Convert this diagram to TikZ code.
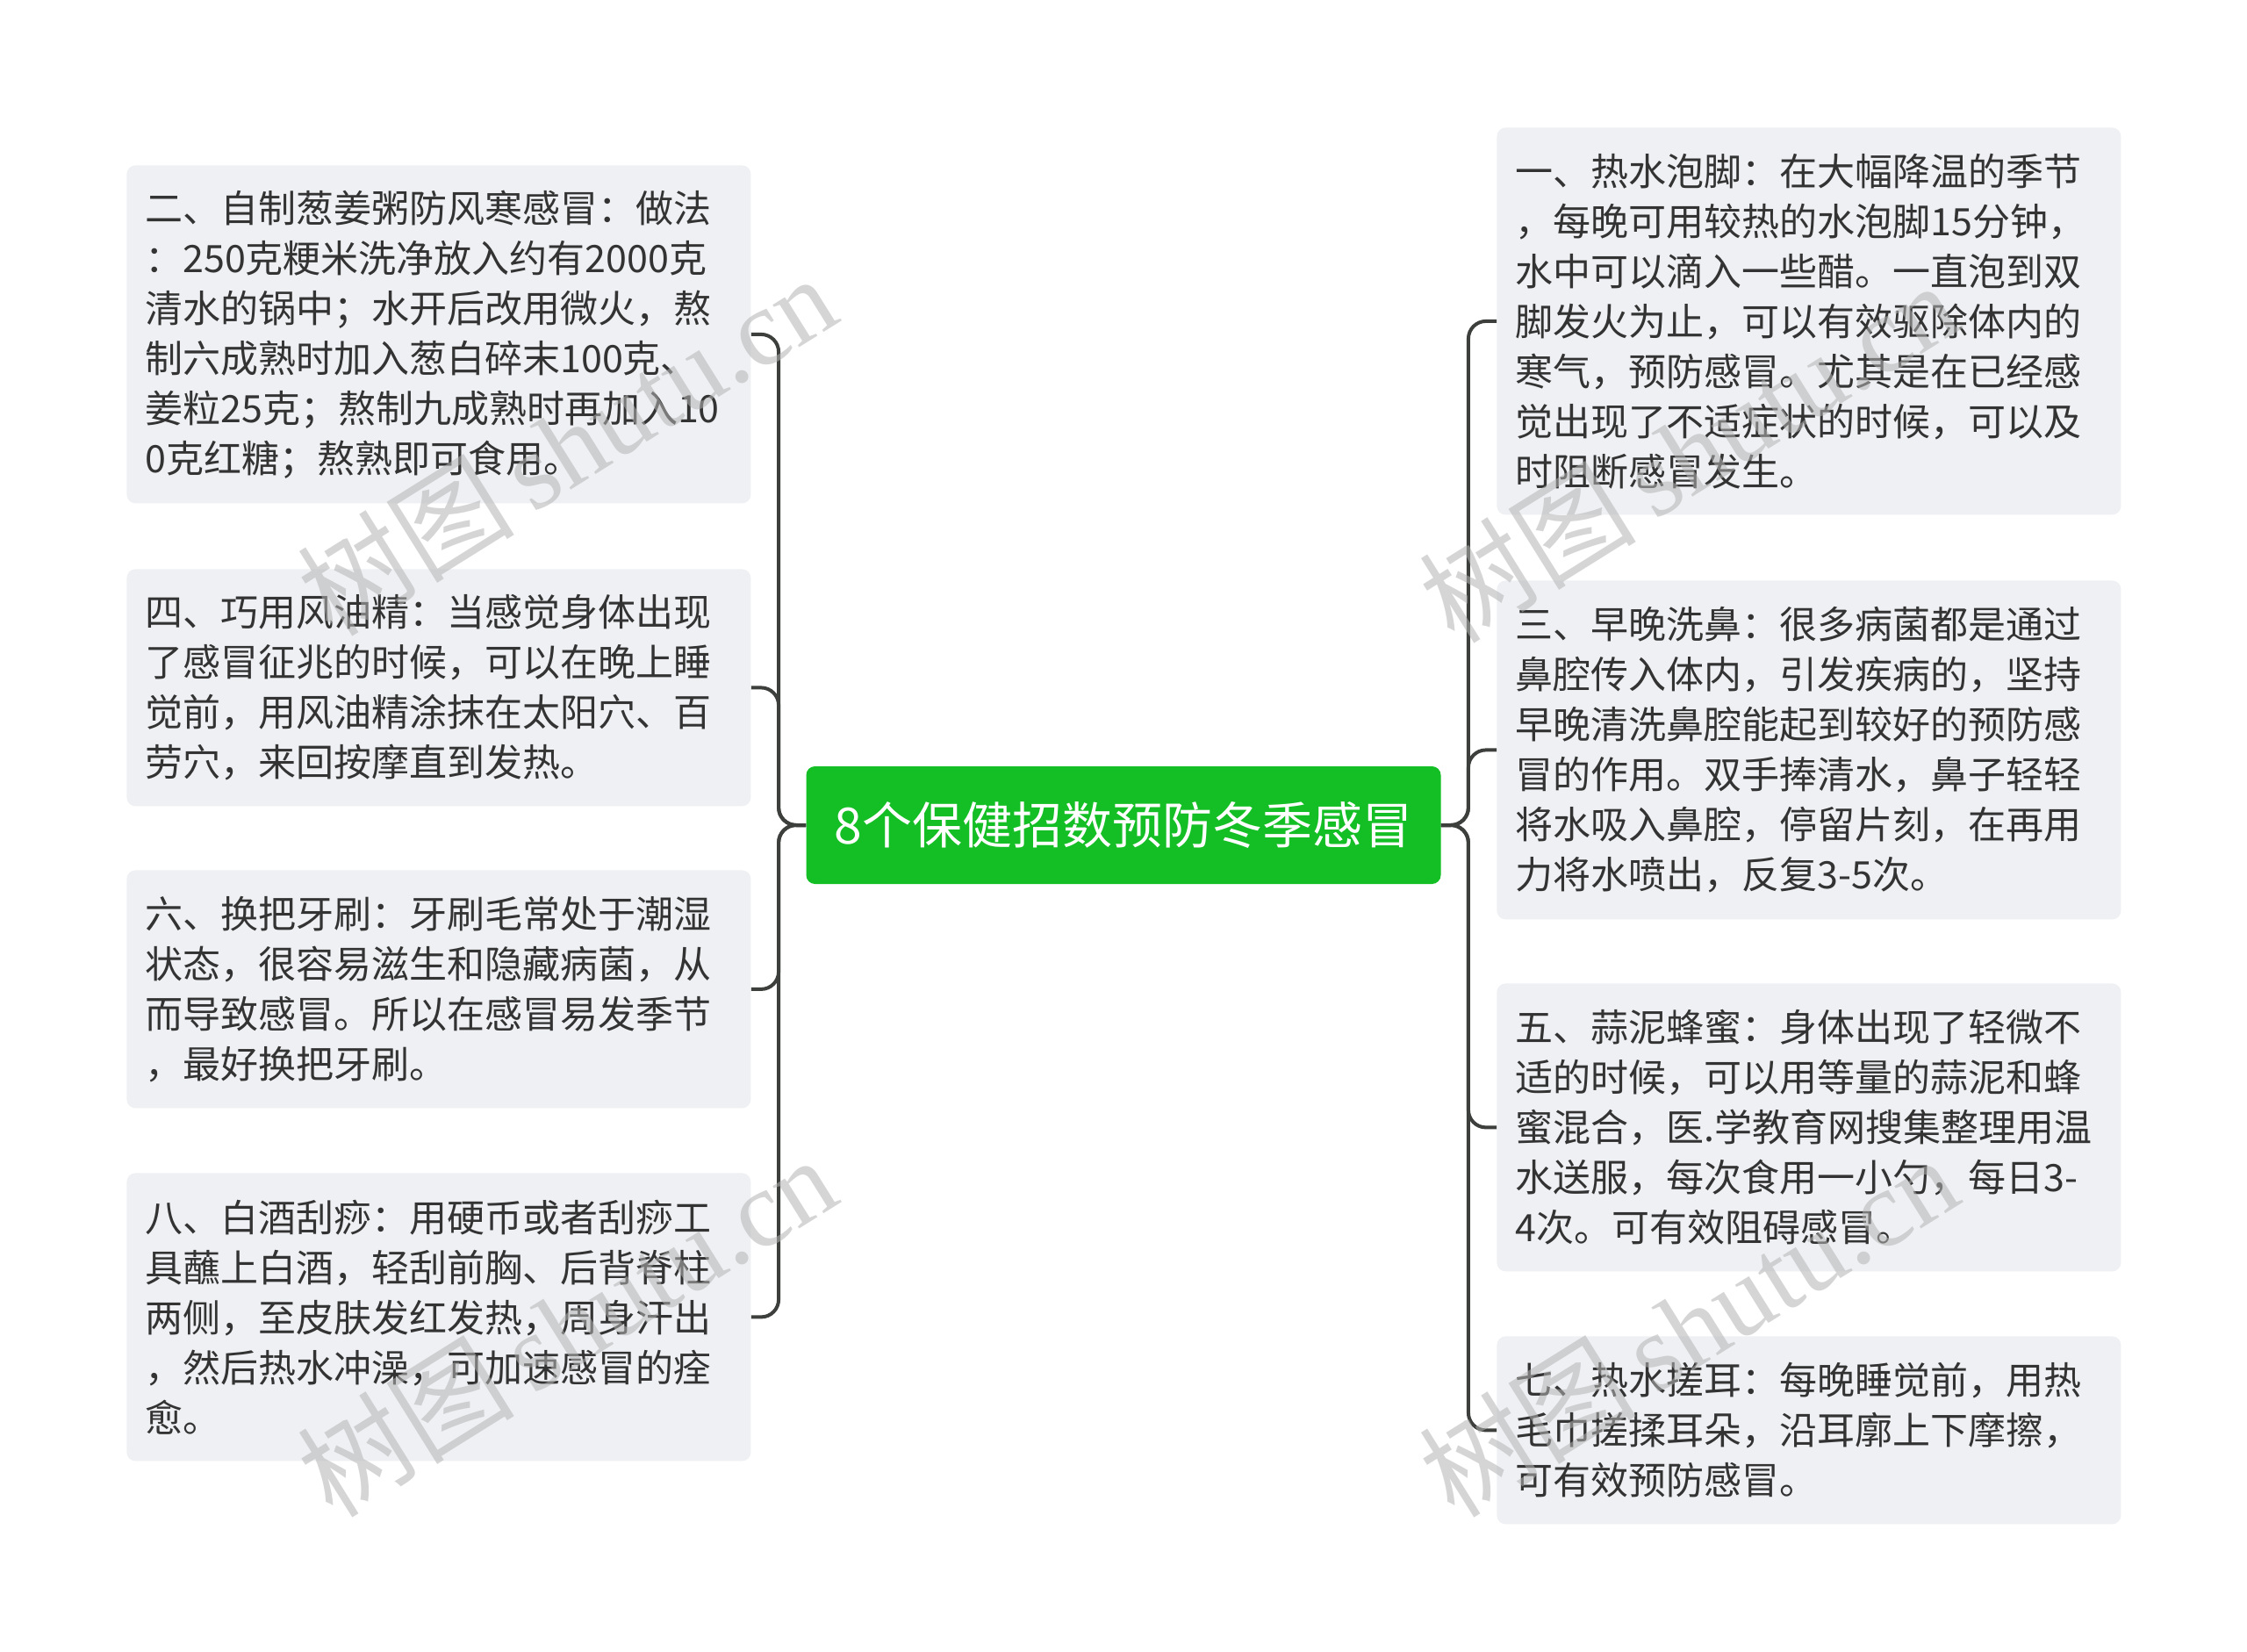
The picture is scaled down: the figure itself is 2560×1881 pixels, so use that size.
\documentclass[tikz,border=0pt]{standalone}
\usepackage{fontspec}
\newfontfamily\cjk{Noto Sans CJK SC}
\newfontfamily\wmserif{Liberation Serif}
\definecolor{boxfill}{HTML}{EEF0F3}
\definecolor{txt}{HTML}{333333}
\definecolor{rootgreen}{HTML}{13BF24}
\definecolor{linec}{HTML}{3C3F3C}
\definecolor{wmc}{HTML}{B4B4B4}
\tikzset{
  leaf/.style={draw=none, fill=boxfill, rounded corners=5pt, anchor=north west,
    minimum width=355.5pt, inner xsep=10.5pt, inner ysep=0pt,
    text width=334.5pt, align=left, text=txt,
    font=\cjk\fontsize{21.5pt}{28.5pt}\selectfont},
  root/.style={fill=rootgreen, rounded corners=5pt, minimum width=361.5pt,
    minimum height=67pt, text=white, inner sep=0pt,
    font=\cjk\fontsize{28.5pt}{34pt}\selectfont},
  conn/.style={draw=linec, line width=2pt, rounded corners=10pt},
  wm/.style={text=wmc, opacity=0.55, rotate=32, inner sep=0pt,
    font=\fontsize{62pt}{70pt}\selectfont}
}
\begin{document}
\begin{tikzpicture}[x=0.5pt, y=-0.5pt]
\fill[white] (0,0) rectangle (2560,1881);
\useasboundingbox (0,0) rectangle (2560,1881);

\node[root] (c) at (1280,940) {8个保健招数预防冬季感冒};

\node[leaf, minimum height=192.5pt] (l1) at (144,188) {二、自制葱姜粥防风寒感冒：做法\\：250克粳米洗净放入约有2000克\\清水的锅中；水开后改用微火，熬\\制六成熟时加入葱白碎末100克、\\姜粒25克；熬制九成熟时再加入10\\0克红糖；熬熟即可食用。};
\node[leaf, minimum height=135pt] (l2) at (144,648) {四、巧用风油精：当感觉身体出现\\了感冒征兆的时候，可以在晚上睡\\觉前，用风油精涂抹在太阳穴、百\\劳穴，来回按摩直到发热。};
\node[leaf, minimum height=135.5pt] (l3) at (144,991) {六、换把牙刷：牙刷毛常处于潮湿\\状态，很容易滋生和隐藏病菌，从\\而导致感冒。所以在感冒易发季节\\，最好换把牙刷。};
\node[leaf, minimum height=164pt] (l4) at (144,1336) {八、白酒刮痧：用硬币或者刮痧工\\具蘸上白酒，轻刮前胸、后背脊柱\\两侧，至皮肤发红发热，周身汗出\\，然后热水冲澡，可加速感冒的痊\\愈。};

\node[leaf, minimum height=220.5pt] (r1) at (1705,145) {一、热水泡脚：在大幅降温的季节\\，每晚可用较热的水泡脚15分钟，\\水中可以滴入一些醋。一直泡到双\\脚发火为止，可以有效驱除体内的\\寒气，预防感冒。尤其是在已经感\\觉出现了不适症状的时候，可以及\\时阻断感冒发生。};
\node[leaf, minimum height=193pt] (r2) at (1705,661) {三、早晚洗鼻：很多病菌都是通过\\鼻腔传入体内，引发疾病的，坚持\\早晚清洗鼻腔能起到较好的预防感\\冒的作用。双手捧清水，鼻子轻轻\\将水吸入鼻腔，停留片刻，在再用\\力将水喷出，反复3-5次。};
\node[leaf, minimum height=164pt] (r3) at (1705,1120) {五、蒜泥蜂蜜：身体出现了轻微不\\适的时候，可以用等量的蒜泥和蜂\\蜜混合，医.学教育网搜集整理用温\\水送服，每次食用一小勺，每日3-\\4次。可有效阻碍感冒。};
\node[leaf, minimum height=107pt] (r4) at (1705,1522) {七、热水搓耳：每晚睡觉前，用热\\毛巾搓揉耳朵，沿耳廓上下摩擦，\\可有效预防感冒。};

\foreach \n in {l1,l2,l3,l4}
  \draw[conn] (c.west) -- ++(-31,0) |- (\n.east);
\foreach \n in {r1,r2,r3,r4}
  \draw[conn] (c.east) -- ++(31,0) |- (\n.west);

\node[wm] (w1) at (645,506) {\cjk 树图\,\wmserif shutu.cn};
\node[wm] (w2) at (645,1510) {\cjk 树图\,\wmserif shutu.cn};
\node[wm] (w3) at (1923,514) {\cjk 树图\,\wmserif shutu.cn};
\node[wm] (w4) at (1923,1510) {\cjk 树图\,\wmserif shutu.cn};
\end{tikzpicture}
\end{document}
